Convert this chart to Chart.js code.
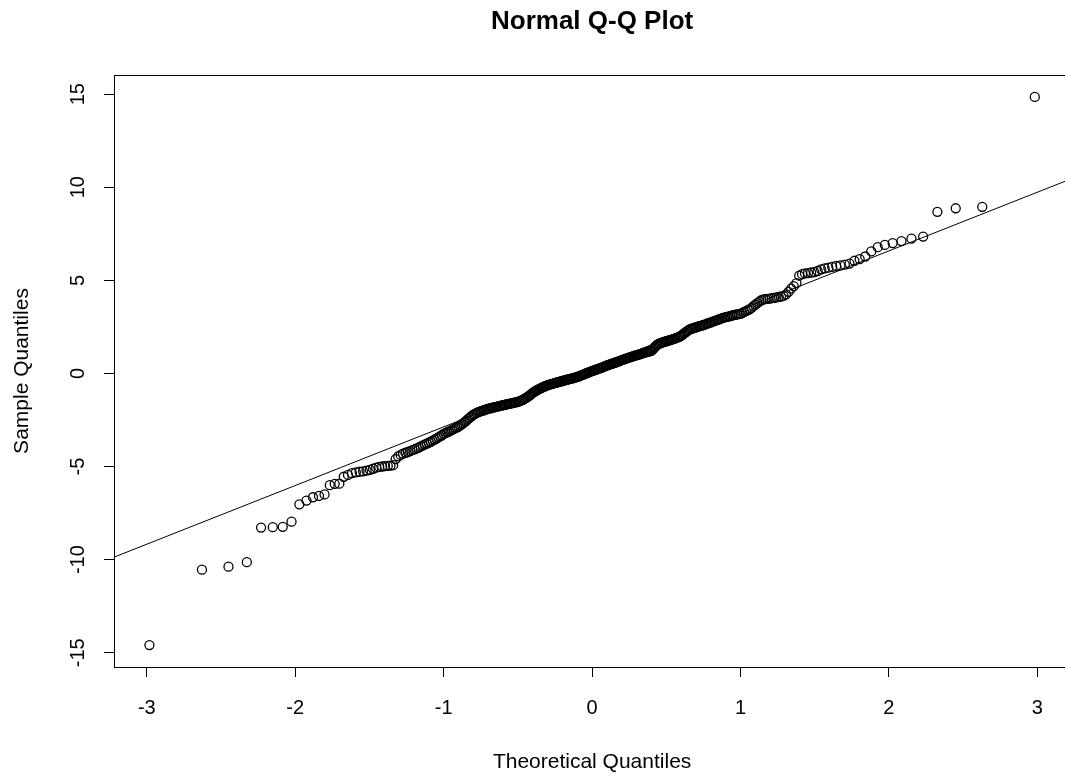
<!DOCTYPE html>
<html>
<head>
<meta charset="utf-8">
<title>Normal Q-Q Plot</title>
<script src="https://cdn.jsdelivr.net/npm/chart.js@4/dist/chart.umd.min.js"></script>
<style>
  html, body { margin: 0; padding: 0; background: #fff; overflow: hidden; }
  #wrap { width: 1076px; height: 776px; }
</style>
</head>
<body>
<div id="wrap"><canvas id="qqChart" width="1076" height="776"></canvas></div>
<script>
// sorted sample values
const sample = [
  -14.59, -10.54, -10.38, -10.14, -8.28, -8.26, -8.24, -7.96, -7.03, -6.83,
  -6.65, -6.58, -6.50, -6.00, -5.93, -5.92, -5.55, -5.45, -5.36, -5.31,
  -5.28, -5.26, -5.22, -5.18, -5.12, -5.06, -5.02, -5.00, -4.98, -4.97,
  -4.95, -4.93, -4.60, -4.45, -4.38, -4.31, -4.26, -4.22, -4.17, -4.12,
  -4.08, -4.03, -3.98, -3.92, -3.87, -3.81, -3.77, -3.72, -3.67, -3.61,
  -3.55, -3.50, -3.44, -3.38, -3.32, -3.25, -3.21, -3.16, -3.12, -3.07,
  -3.03, -2.98, -2.94, -2.90, -2.85, -2.79, -2.73, -2.67, -2.60, -2.53,
  -2.46, -2.39, -2.32, -2.26, -2.20, -2.16, -2.12, -2.08, -2.05, -2.02,
  -2.00, -1.98, -1.95, -1.93, -1.90, -1.88, -1.87, -1.85, -1.83, -1.81,
  -1.80, -1.78, -1.76, -1.75, -1.73, -1.71, -1.70, -1.68, -1.67, -1.65,
  -1.64, -1.62, -1.61, -1.59, -1.58, -1.56, -1.55, -1.53, -1.51, -1.49,
  -1.46, -1.43, -1.40, -1.37, -1.33, -1.29, -1.25, -1.20, -1.15, -1.10,
  -1.05, -1.01, -0.97, -0.93, -0.90, -0.86, -0.83, -0.80, -0.77, -0.74,
  -0.71, -0.69, -0.66, -0.64, -0.62, -0.60, -0.58, -0.57, -0.55, -0.53,
  -0.51, -0.50, -0.48, -0.46, -0.45, -0.43, -0.42, -0.40, -0.38, -0.37,
  -0.35, -0.34, -0.32, -0.31, -0.29, -0.28, -0.26, -0.25, -0.23, -0.21,
  -0.20, -0.18, -0.16, -0.13, -0.11, -0.09, -0.06, -0.04, -0.02, 0.01,
  0.03, 0.05, 0.07, 0.10, 0.12, 0.14, 0.16, 0.18, 0.20, 0.22,
  0.24, 0.26, 0.28, 0.30, 0.32, 0.35, 0.37, 0.40, 0.42, 0.44,
  0.46, 0.48, 0.50, 0.52, 0.54, 0.56, 0.58, 0.60, 0.62, 0.64,
  0.66, 0.69, 0.71, 0.73, 0.75, 0.77, 0.79, 0.81, 0.83, 0.85,
  0.87, 0.89, 0.91, 0.93, 0.95, 0.97, 0.98, 1.00, 1.02, 1.04,
  1.06, 1.08, 1.10, 1.12, 1.14, 1.15, 1.17, 1.19, 1.20, 1.22,
  1.28, 1.35, 1.42, 1.49, 1.55, 1.58, 1.61, 1.63, 1.66, 1.68,
  1.70, 1.72, 1.74, 1.76, 1.78, 1.80, 1.82, 1.84, 1.86, 1.89,
  1.91, 1.94, 1.97, 2.00, 2.05, 2.10, 2.16, 2.21, 2.26, 2.31,
  2.36, 2.39, 2.41, 2.44, 2.46, 2.48, 2.51, 2.53, 2.55, 2.57,
  2.60, 2.62, 2.65, 2.68, 2.71, 2.73, 2.76, 2.79, 2.82, 2.85,
  2.88, 2.91, 2.94, 2.97, 3.00, 3.02, 3.04, 3.06, 3.08, 3.11,
  3.13, 3.15, 3.17, 3.19, 3.20, 3.25, 3.30, 3.35, 3.40, 3.44,
  3.52, 3.61, 3.70, 3.78, 3.86, 3.93, 3.98, 3.99, 4.00, 4.02,
  4.04, 4.06, 4.08, 4.11, 4.13, 4.16, 4.25, 4.38, 4.55, 4.69,
  4.85, 5.25, 5.33, 5.37, 5.39, 5.42, 5.44, 5.50, 5.59, 5.64,
  5.68, 5.72, 5.77, 5.80, 5.84, 5.90, 6.05, 6.14, 6.28, 6.55,
  6.78, 6.90, 7.00, 7.11, 7.24, 7.35, 8.68, 8.87, 8.95, 14.85
];

const xTicks = [-3, -2, -1, 0, 1, 2, 3];
const yTicks = [-15, -10, -5, 0, 5, 10, 15];

const titleText = 'Normal Q-Q Plot';
const xLabel = 'Theoretical Quantiles';
const yLabel = 'Sample Quantiles';

// inverse normal cdf (Acklam)
function qnorm(p) {
  const a = [-3.969683028665376e+01, 2.209460984245205e+02, -2.759285104469687e+02, 1.383577518672690e+02, -3.066479806614716e+01, 2.506628277459239e+00];
  const b = [-5.447609879822406e+01, 1.615858368580409e+02, -1.556989798598866e+02, 6.680131188771972e+01, -1.328068155288572e+01];
  const c = [-7.784894002430293e-03, -3.223964580411365e-01, -2.400758277161838e+00, -2.549732539343734e+00, 4.374664141464968e+00, 2.938163982698783e+00];
  const d = [7.784695709041462e-03, 3.224671290700398e-01, 2.445134137142996e+00, 3.754408661907416e+00];
  const pl = 0.02425;
  let q, r;
  if (p < pl) {
    q = Math.sqrt(-2 * Math.log(p));
    return (((((c[0]*q+c[1])*q+c[2])*q+c[3])*q+c[4])*q+c[5]) / ((((d[0]*q+d[1])*q+d[2])*q+d[3])*q+1);
  }
  if (p > 1 - pl) {
    q = Math.sqrt(-2 * Math.log(1 - p));
    return -(((((c[0]*q+c[1])*q+c[2])*q+c[3])*q+c[4])*q+c[5]) / ((((d[0]*q+d[1])*q+d[2])*q+d[3])*q+1);
  }
  q = p - 0.5; r = q * q;
  return (((((a[0]*r+a[1])*r+a[2])*r+a[3])*r+a[4])*r+a[5])*q / (((((b[0]*r+b[1])*r+b[2])*r+b[3])*r+b[4])*r+1);
}

// like R's quantile(type=7)
function quant(sorted, p) {
  let h = (sorted.length - 1) * p, lo = Math.floor(h);
  return sorted[lo] + (h - lo) * (sorted[lo + 1] - sorted[lo]);
}

let n = sample.length;
let points = sample.map((v, i) => ({ x: qnorm((i + 0.5) / n), y: v }));

// qqline through the quartiles
let q1 = quant(sample, 0.25), q3 = quant(sample, 0.75);
let slope = (q3 - q1) / (qnorm(0.75) - qnorm(0.25));
let intercept = q1 - slope * qnorm(0.25);

// R pads the data range by 4% each side
let xs = points.map(p => p.x);
let xMin = Math.min(...xs), xMax = Math.max(...xs);
let yMin = sample[0], yMax = sample[n - 1];
let xPad = (xMax - xMin) * 0.04, yPad = (yMax - yMin) * 0.04;
xMin -= xPad; xMax += xPad; yMin -= yPad; yMax += yPad;

const fontFam = '"Liberation Sans", Arial, sans-serif';

let boxPlugin = {
  id: 'box',
  afterDatasetsDraw(chart) {
    let a = chart.chartArea, ctx = chart.ctx;
    ctx.save();
    ctx.strokeStyle = '#000';
    ctx.lineWidth = 1;
    ctx.strokeRect(Math.round(a.left) + 0.5, Math.round(a.top) + 0.5, Math.round(a.right - a.left), Math.round(a.bottom - a.top));
    ctx.restore();
  }
};

let chart = new Chart('qqChart', {
  type: 'scatter',
  data: {
    datasets: [{
      data: points,
      pointStyle: 'circle',
      pointRadius: 4.5,
      pointBorderWidth: 1.3,
      borderColor: '#000',
      backgroundColor: 'rgba(0,0,0,0)',
      showLine: false
    }, {
      type: 'line',
      data: [
        { x: xMin, y: intercept + slope * xMin },
        { x: xMax, y: intercept + slope * xMax }
      ],
      borderColor: '#000',
      borderWidth: 1,
      pointRadius: 0,
      fill: false
    }]
  },
  options: {
    responsive: false,
    animation: false,
    devicePixelRatio: 1,
    layout: { padding: 0 },
    plugins: {
      legend: { display: false },
      tooltip: { enabled: false },
      title: {
        display: true,
        text: titleText,
        fullSize: false,
        color: '#000',
        font: { family: fontFam, size: 26, weight: 'bold', lineHeight: 1.2 },
        padding: { top: 6, bottom: 37.8 }
      }
    },
    scales: {
      x: {
        type: 'linear',
        min: xMin,
        max: xMax,
        afterBuildTicks: s => { s.ticks = xTicks.map(v => ({ value: v })); },
        afterFit: s => { s.height = 109; },
        border: { display: false },
        grid: { drawOnChartArea: false, drawTicks: true, tickLength: 10, color: '#000', tickColor: '#000' },
        ticks: { color: '#000', padding: 19, maxRotation: 0, autoSkip: false, font: { family: fontFam, size: 20 } },
        title: { display: true, text: xLabel, color: '#000', font: { family: fontFam, size: 21 }, padding: { top: 0, bottom: 1 } }
      },
      y: {
        type: 'linear',
        min: yMin,
        max: yMax,
        afterBuildTicks: s => { s.ticks = yTicks.map(v => ({ value: v })); },
        afterFit: s => { s.width = 114; },
        border: { display: false },
        grid: { drawOnChartArea: false, drawTicks: true, tickLength: 10, color: '#000', tickColor: '#000' },
        ticks: { color: '#000', padding: 11, minRotation: 90, maxRotation: 90, crossAlign: 'center', autoSkip: false, font: { family: fontFam, size: 20 } },
        title: { display: true, text: yLabel, color: '#000', font: { family: fontFam, size: 21 }, padding: { top: 10, bottom: 0 } }
      }
    }
  },
  plugins: [boxPlugin]
});
</script>
</body>
</html>
